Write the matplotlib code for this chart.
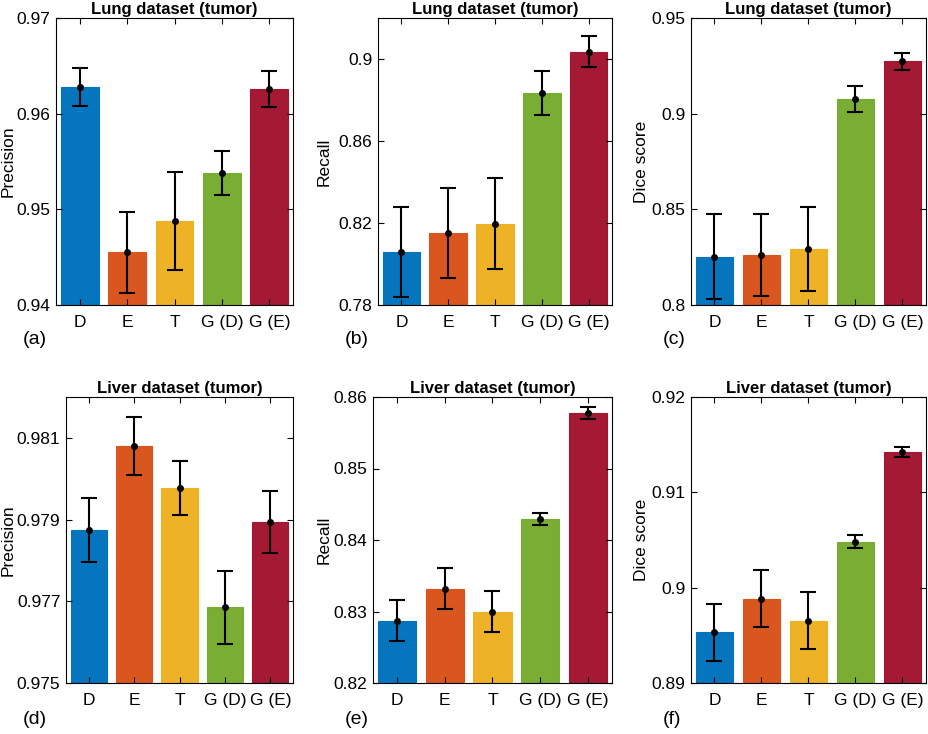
import numpy as np
import matplotlib.pyplot as plt

plt.rcParams['font.family'] = ['Liberation Sans', 'DejaVu Sans']

methods = ['D', 'E', 'T', 'G (D)', 'G (E)']
colors = ['#0072BD', '#D95319', '#EDB120', '#77AC30', '#A2142F']

# lung dataset
lung_precision = [0.9628, 0.9455, 0.9488, 0.9538, 0.9626]
lung_precision_err = [0.0020, 0.0042, 0.0051, 0.0023, 0.0019]
lung_recall = [0.8058, 0.8151, 0.8197, 0.8833, 0.9036]
lung_recall_err = [0.0221, 0.0220, 0.0222, 0.0108, 0.0077]
lung_dice = [0.8253, 0.8263, 0.8294, 0.9078, 0.9273]
lung_dice_err = [0.0222, 0.0215, 0.0220, 0.0067, 0.0043]

# liver dataset
liver_precision = [0.97874, 0.98080, 0.97977, 0.97685, 0.97894]
liver_precision_err = [0.00079, 0.00070, 0.00066, 0.00089, 0.00077]
liver_recall = [0.82874, 0.83321, 0.83000, 0.84293, 0.85777]
liver_recall_err = [0.0029, 0.0029, 0.0029, 0.0008, 0.0008]
liver_dice = [0.8953, 0.89885, 0.89652, 0.90481, 0.91425]
liver_dice_err = [0.0030, 0.0030, 0.0030, 0.0007, 0.0005]

panels = [
    ('Lung dataset (tumor)', 'Precision', lung_precision, lung_precision_err,
     (0.94, 0.97), [0.94, 0.95, 0.96, 0.97], '(a)'),
    ('Lung dataset (tumor)', 'Recall', lung_recall, lung_recall_err,
     (0.78, 0.92), [0.78, 0.82, 0.86, 0.9], '(b)'),
    ('Lung dataset (tumor)', 'Dice score', lung_dice, lung_dice_err,
     (0.80, 0.95), [0.8, 0.85, 0.9, 0.95], '(c)'),
    ('Liver dataset (tumor)', 'Precision', liver_precision, liver_precision_err,
     (0.975, 0.982), [0.975, 0.977, 0.979, 0.981], '(d)'),
    ('Liver dataset (tumor)', 'Recall', liver_recall, liver_recall_err,
     (0.82, 0.86), [0.82, 0.83, 0.84, 0.85, 0.86], '(e)'),
    ('Liver dataset (tumor)', 'Dice score', liver_dice, liver_dice_err,
     (0.89, 0.92), [0.89, 0.9, 0.91, 0.92], '(f)'),
]

W, H = 929, 734
# axes boxes in pixels: left, top, right, bottom
boxes = [
    (56, 18, 293, 305), (378, 18, 612, 305), (691, 18, 926, 305),
    (66, 397, 293, 683), (373, 397, 612, 683), (691, 397, 926, 683),
]
letter_pos = [(23, 340), (345, 340), (663, 340), (23, 719), (345, 719), (663, 719)]
ylabel_x = [8, 324, 641, 8, 324, 641]

fig = plt.figure(figsize=(W / 100, H / 100), dpi=100)
x = np.arange(1, 6)

for (title, ylabel, vals, errs, ylim, yticks, letter), box, lp, yx in zip(
        panels, boxes, letter_pos, ylabel_x):
    l, t, r, b = box
    ax = fig.add_axes([l / W, 1 - b / H, (r - l) / W, (b - t) / H])
    ax.bar(x, np.array(vals) - ylim[0], bottom=ylim[0], width=0.8, color=colors,
           edgecolor=colors, linewidth=0.8, alpha=0.98)
    ax.errorbar(x, vals, yerr=errs, fmt='o', color='black', markersize=4,
                elinewidth=1.5, capsize=6, capthick=1.5)
    ax.set_xlim(0.5, 5.5)
    ax.set_ylim(*ylim)
    ax.set_yticks(yticks)
    ax.set_yticklabels([('%g' % v) for v in yticks])
    ax.set_xticks(x)
    ax.set_xticklabels(methods)
    ax.tick_params(direction='in', top=True, right=True, labelsize=12.5,
                   length=4, width=0.8)
    ax.tick_params(axis='x', pad=7)
    ax.tick_params(axis='y', pad=4)
    ax.set_title(title, fontsize=12, fontweight='bold', pad=3)
    for s in ax.spines.values():
        s.set_linewidth(0.8)
    fig.text(yx / W, 1 - (t + b) / 2 / H, ylabel, fontsize=12.5, rotation=90,
             ha='center', va='center')
    fig.text(lp[0] / W, 1 - lp[1] / H, letter, fontsize=14, ha='left', va='center')

fig.savefig('out.png', dpi=100)
